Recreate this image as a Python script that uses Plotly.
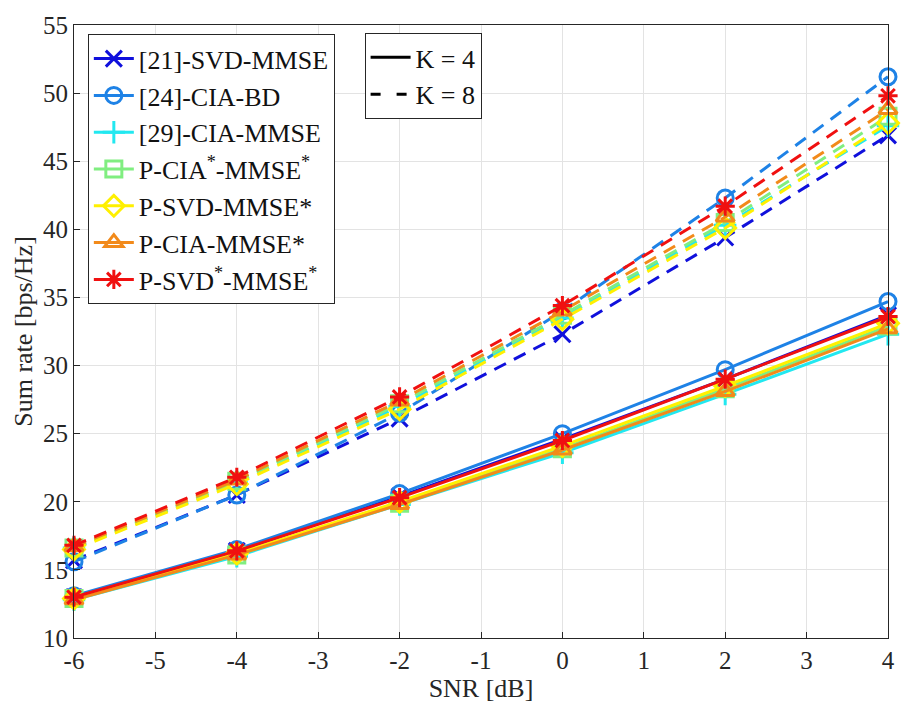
import plotly.graph_objects as go

snr = [-6, -4, -2, 0, 2, 4]

# Sum rate, K = 4 users (solid lines)
svd_mmse_21_k4 = [13.0, 16.4, 20.4, 24.6, 29.0, 33.7]
cia_bd_24_k4 = [13.1, 16.5, 20.6, 25.0, 29.7, 34.7]
cia_mmse_29_k4 = [12.8, 16.0, 19.8, 23.6, 27.9, 32.3]
p_cias_mmses_k4 = [12.9, 16.1, 19.9, 23.9, 28.3, 32.9]
p_svd_mmses_k4 = [12.9, 16.2, 20.0, 24.1, 28.5, 33.1]
p_cia_mmses_k4 = [12.8, 16.1, 19.8, 23.8, 28.1, 32.7]
p_svds_mmses_k4 = [13.0, 16.4, 20.3, 24.5, 29.0, 33.6]

# Sum rate, K = 8 users (dashed lines)
svd_mmse_21_k8 = [15.7, 20.5, 26.1, 32.3, 39.4, 46.9]
cia_bd_24_k8 = [15.6, 20.5, 26.5, 34.0, 42.3, 51.2]
cia_mmse_29_k8 = [16.6, 21.4, 27.0, 33.5, 40.3, 47.6]
p_cias_mmses_k8 = [16.6, 21.5, 27.2, 33.7, 40.5, 48.3]
p_svd_mmses_k8 = [16.5, 21.3, 26.8, 33.4, 40.1, 47.8]
p_cia_mmses_k8 = [16.7, 21.6, 27.4, 34.0, 40.9, 48.8]
p_svds_mmses_k8 = [16.8, 21.8, 27.7, 34.4, 41.7, 49.8]

x_ticks = [-6, -5, -4, -3, -2, -1, 0, 1, 2, 3, 4]
x_tick_labels = ["-6", "-5", "-4", "-3", "-2", "-1", "0", "1", "2", "3", "4"]
y_ticks = [10, 15, 20, 25, 30, 35, 40, 45, 50, 55]

series = [
    ("[21]-SVD-MMSE", "#1010DC", "x-thin-open", svd_mmse_21_k4, svd_mmse_21_k8),
    ("[24]-CIA-BD", "#1E82E6", "circle-open", cia_bd_24_k4, cia_bd_24_k8),
    ("[29]-CIA-MMSE", "#22E8F0", "cross-thin-open", cia_mmse_29_k4, cia_mmse_29_k8),
    ("P-CIA<sup>*</sup>-MMSE<sup>*</sup>", "#80EE80", "square-open", p_cias_mmses_k4, p_cias_mmses_k8),
    ("P-SVD-MMSE*", "#FFF000", "diamond-open", p_svd_mmses_k4, p_svd_mmses_k8),
    ("P-CIA-MMSE*", "#F28A1A", "triangle-up-open", p_cia_mmses_k4, p_cia_mmses_k8),
    ("P-SVD<sup>*</sup>-MMSE<sup>*</sup>", "#F01010", "asterisk-open", p_svds_mmses_k4, p_svds_mmses_k8),
]

FONT = "Liberation Serif"
TEXT = "#262626"
DASH = "13px,9px"

fig = go.Figure()

for name, color, symbol, k4, k8 in series:
    marker = dict(symbol=symbol, size=16, color=color, line=dict(color=color, width=3))
    fig.add_trace(go.Scatter(
        x=snr, y=k4, mode="lines+markers", name=name, legendgroup=name,
        line=dict(color=color, width=3), marker=marker, cliponaxis=False,
        showlegend=True, legend="legend",
    ))
    fig.add_trace(go.Scatter(
        x=snr, y=k8, mode="lines+markers", name=name, legendgroup=name,
        line=dict(color=color, width=3, dash=DASH), marker=marker, cliponaxis=False,
        showlegend=False,
    ))

# Line-style key
fig.add_trace(go.Scatter(x=[None], y=[None], mode="lines", name="K = 4",
                         line=dict(color="black", width=3), legend="legend2"))
fig.add_trace(go.Scatter(x=[None], y=[None], mode="lines", name="K = 8",
                         line=dict(color="black", width=3, dash="10px,16px"), legend="legend2"))

axis_common = dict(
    showgrid=True, gridcolor="#E3E3E3", gridwidth=1,
    showline=True, linecolor=TEXT, linewidth=1, mirror=True,
    ticks="inside", ticklen=6, tickcolor=TEXT,
    tickfont=dict(family=FONT, size=25, color=TEXT),
    zeroline=False,
)

fig.update_layout(
    width=907, height=713,
    margin=dict(l=74, r=12, t=17, b=75),
    paper_bgcolor="white", plot_bgcolor="white",
    font=dict(family=FONT, size=25, color=TEXT),
    xaxis=dict(range=[-6, 4], tickvals=x_ticks, ticktext=x_tick_labels,
               title=dict(text="SNR [dB]", font=dict(family=FONT, size=26, color=TEXT), standoff=2),
               **axis_common),
    yaxis=dict(range=[10, 55], tickvals=y_ticks,
               title=dict(text="Sum rate [bps/Hz]", font=dict(family=FONT, size=26, color=TEXT), standoff=2),
               **axis_common),
    legend=dict(x=0.017, y=0.985, xanchor="left", yanchor="top",
                bgcolor="white", bordercolor=TEXT, borderwidth=1,
                font=dict(family=FONT, size=26, color="#111111"),
                itemwidth=40, tracegroupgap=0),
    legend2=dict(x=0.357, y=0.987, xanchor="left", yanchor="top",
                 bgcolor="white", bordercolor=TEXT, borderwidth=1,
                 font=dict(family=FONT, size=26, color="#111111"),
                 itemwidth=40),
)

fig.write_html("out.html")
